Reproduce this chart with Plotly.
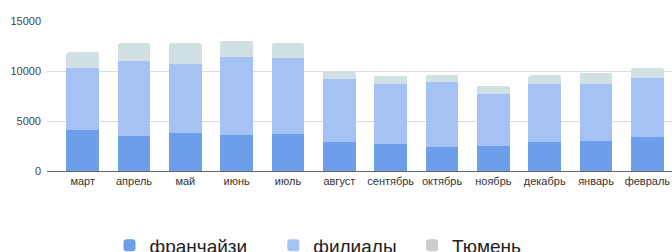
import plotly.graph_objects as go

months = ["март", "апрель", "май", "июнь", "июль", "август", "сентябрь",
          "октябрь", "ноябрь", "декабрь", "январь", "февраль"]
franchise = [4100, 3530, 3800, 3630, 3700, 2870, 2670, 2400, 2500, 2870, 2970, 3370]
branches = [6170, 7500, 6870, 7770, 7600, 6330, 6060, 6530, 5170, 5860, 5760, 5960]
tyumen = [1600, 1740, 2100, 1630, 1470, 770, 770, 670, 830, 840, 1070, 940]
y_ticks = [0, 5000, 10000, 15000]

FONT = "Arial, Liberation Sans, sans-serif"
NB = "\u00a0"

fig = go.Figure()
fig.add_trace(go.Bar(x=months, y=franchise, name="франчайзи" + NB * 4, legendgroup="a",
                     marker=dict(color="#6d9eeb", line=dict(width=0))))
fig.add_trace(go.Bar(x=months, y=branches, name="филиалы" + NB * 2, legendgroup="b",
                     marker=dict(color="#a4c2f4", line=dict(width=0))))
fig.add_trace(go.Bar(x=months, y=tyumen, name="Тюмень", showlegend=False,
                     legendgroup="t",
                     marker=dict(color="#d0e0e3", line=dict(width=0))))
fig.add_trace(go.Bar(x=[None], y=[None], name="Тюмень", legendgroup="t",
                     marker=dict(color="#cccccc", line=dict(width=0))))

fig.update_layout(
    width=672, height=252,
    margin=dict(l=47, r=0, t=21, b=81, autoexpand=False),
    barmode="stack",
    bargap=0.36,
    barcornerradius=2,
    plot_bgcolor="white",
    paper_bgcolor="white",
    font=dict(family=FONT, size=11, color="#444444"),
    showlegend=True,
    legend=dict(orientation="h", x=0.1, xanchor="left", y=-0.37, yanchor="top",
                font=dict(size=19, color="#222222", family=FONT),
                traceorder="normal", tracegroupgap=28),
    xaxis=dict(range=[-0.695, 11.48], showgrid=False, showline=False,
               ticks="", tickfont=dict(size=11, color="#333333"),
               ticklabelstandoff=2, automargin=False),
    yaxis=dict(range=[0, 15000], tickvals=y_ticks,
               ticktext=[str(v) for v in y_ticks],
               showgrid=True, gridcolor="#d9d9d9", gridwidth=1,
               zeroline=True, zerolinecolor="#666666", zerolinewidth=1,
               showline=False, ticks="", tickfont=dict(size=11, color="#444444"),
               ticklabelstandoff=5, automargin=False),
)

fig.write_html("out.html", config={"displayModeBar": False},
               post_script="document.body.style.margin='0';document.body.style.overflow='hidden';")
